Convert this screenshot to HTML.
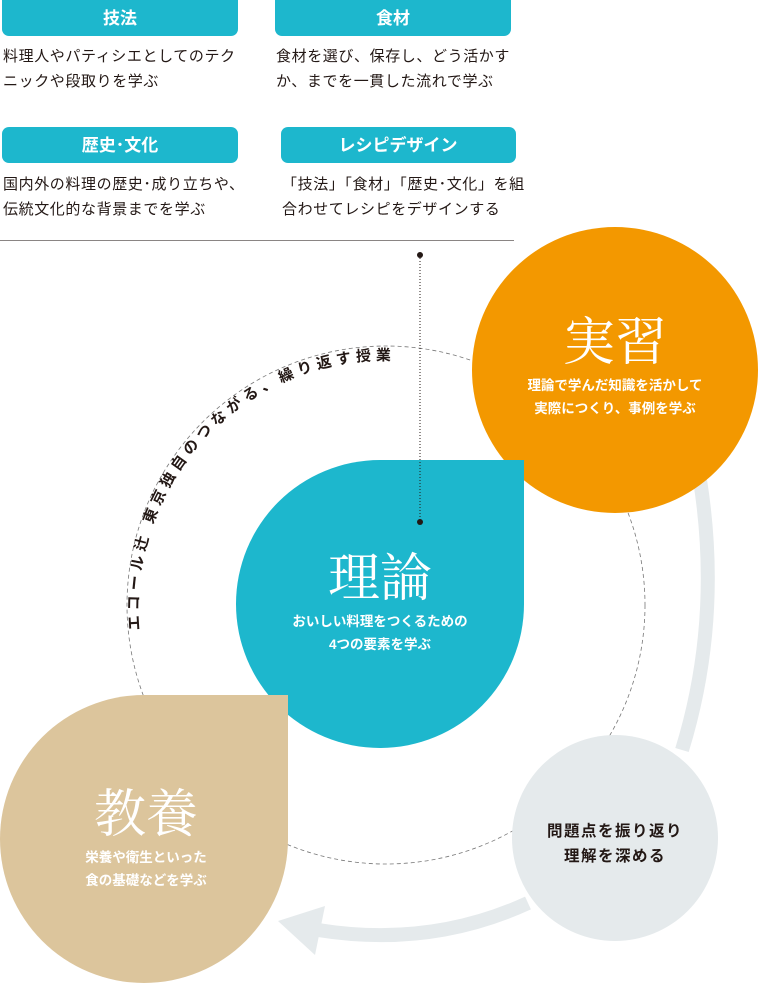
<!DOCTYPE html>
<html><head><meta charset="utf-8"><style>
html,body{margin:0;padding:0;background:#fff;}
svg{display:block;font-family:"Liberation Sans","Noto Sans CJK JP",sans-serif;}
</style></head><body>
<svg width="760" height="987" viewBox="0 0 760 987" xmlns="http://www.w3.org/2000/svg">
<g fill="#1db7cd">
<rect x="2" y="-8" width="236" height="44" rx="7"/>
<rect x="275" y="-8" width="236" height="44" rx="7"/>
<rect x="2" y="127" width="236" height="36" rx="7"/>
<rect x="281" y="127" width="235" height="36" rx="7"/>
</g>
<g fill="#fff" font-size="17" font-weight="bold" text-anchor="middle">
<text x="120" y="24">技法</text>
<text x="393" y="24">食材</text>
<text x="120" y="151">歴史･文化</text>
<text x="398" y="151">レシピデザイン</text>
</g>
<g fill="#231815" font-size="15" letter-spacing="0.6">
<text x="3" y="61">料理人やパティシエとしてのテク</text>
<text x="3" y="86">ニックや段取りを学ぶ</text>
<text x="276" y="61">食材を選び、保存し、どう活かす</text>
<text x="276" y="86">か、までを一貫した流れで学ぶ</text>
<text x="3" y="189">国内外の料理の歴史･成り立ちや、</text>
<text x="3" y="214">伝統文化的な背景までを学ぶ</text>
<text x="282" y="189">「技法」「食材」「歴史･文化」を組</text>
<text x="282" y="214">合わせてレシピをデザインする</text>
</g>
<line x1="0" y1="240.5" x2="514" y2="240.5" stroke="#8a8584" stroke-width="1"/>

<circle cx="386" cy="605" r="259" fill="none" stroke="#777" stroke-width="0.8" stroke-dasharray="4,3"/>

<g fill="none" stroke="#e5eaec" stroke-width="14">
<path d="M700,480 Q722,620 682,750"/>
<path d="M528,903 Q430,948 318,930"/>
</g>
<polygon points="278,921 325,906 315,955" fill="#e5eaec"/>

<circle cx="615" cy="370" r="143" fill="#f39800"/>
<circle cx="615" cy="838" r="103" fill="#e5eaec"/>
<path d="M524,460 L524,604 A144,144 0 1 1 380,460 Z" fill="#1db7cd"/>
<path d="M288,695 L288,839 A144,144 0 1 1 144,695 Z" fill="#dcc59c"/>

<line x1="420" y1="255" x2="420" y2="522" stroke="#231815" stroke-width="1" stroke-dasharray="1,2"/>
<circle cx="420" cy="255" r="3" fill="#231815"/>
<circle cx="420" cy="522" r="3" fill="#231815"/>

<defs><path id="arc" d="M140,630 A246,246 0 0 1 460,372"/></defs>
<text font-size="15" font-weight="bold" fill="#231815" letter-spacing="4.6"><textPath href="#arc">エコール辻 東京独自のつながる、繰り返す授業</textPath></text>

<g fill="#fff" text-anchor="middle">
<text x="615" y="360" font-size="52" font-family="'Noto Serif CJK SC','Noto Serif CJK JP',serif">実習</text>
<text x="615" y="390" font-size="13.5" font-weight="bold">理論で学んだ知識を活かして</text>
<text x="615" y="413" font-size="13.5" font-weight="bold">実際につくり、事例を学ぶ</text>
<text x="380" y="596" font-size="52" font-family="'Noto Serif CJK SC','Noto Serif CJK JP',serif">理論</text>
<text x="380" y="626" font-size="13.5" font-weight="bold">おいしい料理をつくるための</text>
<text x="380" y="649" font-size="13.5" font-weight="bold">4つの要素を学ぶ</text>
<text x="146" y="832" font-size="52" font-family="'Noto Serif CJK SC','Noto Serif CJK JP',serif">教養</text>
<text x="146" y="862" font-size="13.5" font-weight="bold">栄養や衛生といった</text>
<text x="146" y="885" font-size="13.5" font-weight="bold">食の基礎などを学ぶ</text>
</g>
<g fill="#231815" text-anchor="middle" font-size="15.5" font-weight="bold" letter-spacing="1.5">
<text x="615" y="836">問題点を振り返り</text>
<text x="615" y="861">理解を深める</text>
</g>
</svg>
</body></html>
